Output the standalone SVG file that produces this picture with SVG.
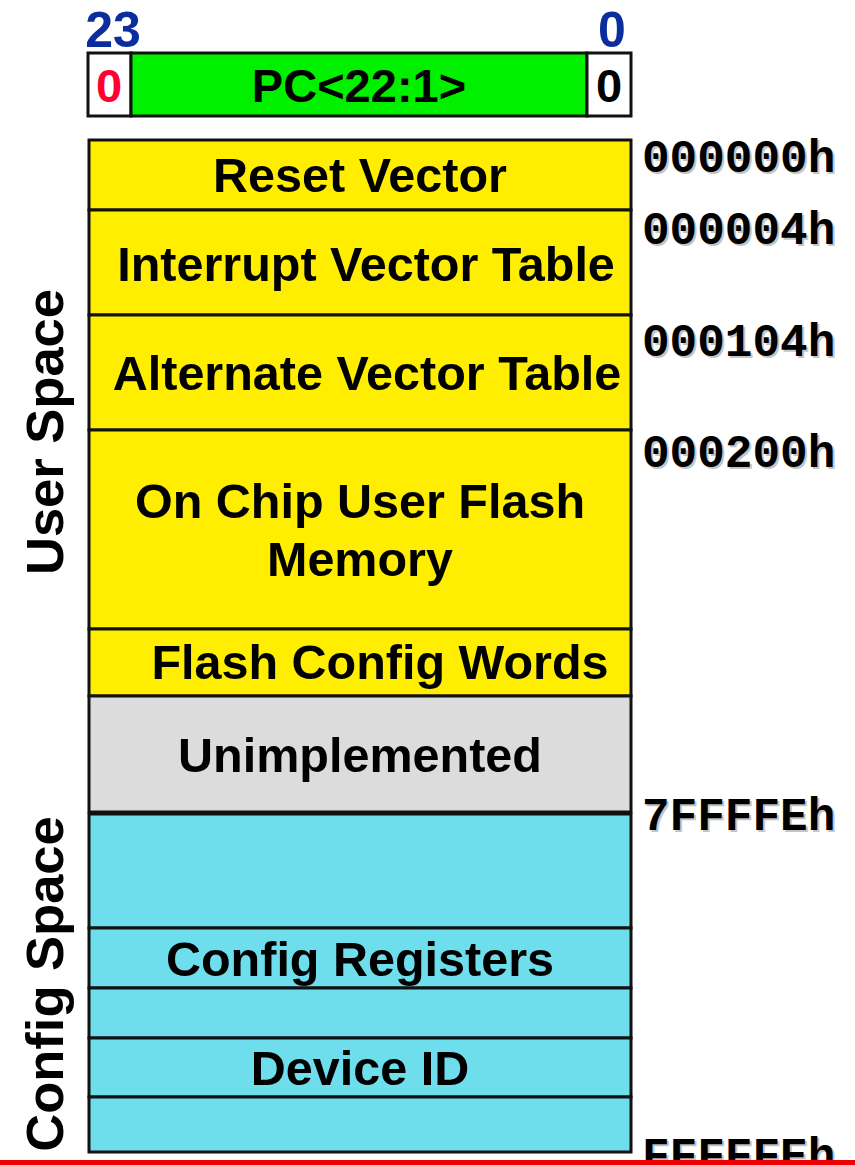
<svg xmlns="http://www.w3.org/2000/svg" width="855" height="1165" viewBox="0 0 855 1165">
  <defs>
    <style>
      .blk { stroke: #111; stroke-width: 3; }
      .yel { fill: #FFEE00; }
      .gry { fill: #DCDCDC; }
      .cyn { fill: #6EDEEC; }
      .lbl { font-family: "Liberation Sans", Arial, sans-serif; font-weight: bold; font-size: 48.5px; fill: #000; text-anchor: middle; }
      .pc { font-family: "Liberation Sans", Arial, sans-serif; font-weight: bold; font-size: 47px; fill: #000; text-anchor: middle; }
      .side { font-family: "Liberation Sans", Arial, sans-serif; font-weight: bold; font-size: 52.5px; fill: #000; text-anchor: middle; }
      .bit { font-family: "Liberation Sans", Arial, sans-serif; font-weight: bold; font-size: 50px; fill: #0B2E9C; text-anchor: middle; }
      .addr { font-family: "Liberation Mono", "Courier New", monospace; font-weight: bold; font-size: 46px; fill: #000; }
      .addr-sh { font-family: "Liberation Mono", "Courier New", monospace; font-weight: bold; font-size: 46px; fill: #C4C4C4; }
    </style>
  </defs>

  <rect width="855" height="1165" fill="#fff"/>

  <!-- program counter register -->
  <g id="pc-register">
    <text class="bit" x="113" y="47">23</text>
    <text class="bit" x="612" y="47">0</text>
    <rect class="blk" x="88" y="53" width="43" height="63" fill="#fff"/>
    <rect class="blk" x="131" y="53" width="456" height="63" fill="#00F000"/>
    <rect class="blk" x="587" y="53" width="44" height="63" fill="#fff"/>
    <text class="pc" x="109" y="102" style="fill:#FF0033">0</text>
    <text class="pc" x="359" y="102">PC&lt;22:1&gt;</text>
    <text class="pc" x="609" y="102">0</text>
  </g>

  <!-- user space -->
  <g id="reset-vector">
    <rect class="blk yel" x="89" y="140" width="542" height="70"/>
    <text class="lbl" x="360" y="192">Reset Vector</text>
  </g>
  <g id="interrupt-vector-table">
    <rect class="blk yel" x="89" y="210" width="542" height="105"/>
    <text class="lbl" x="366" y="281">Interrupt Vector Table</text>
  </g>
  <g id="alternate-vector-table">
    <rect class="blk yel" x="89" y="315" width="542" height="115"/>
    <text class="lbl" x="367" y="390">Alternate Vector Table</text>
  </g>
  <g id="user-flash">
    <rect class="blk yel" x="89" y="430" width="542" height="199"/>
    <text class="lbl" x="360" y="518">On Chip User Flash</text>
    <text class="lbl" x="360" y="576">Memory</text>
  </g>
  <g id="flash-config-words">
    <rect class="blk yel" x="89" y="629" width="542" height="67"/>
    <text class="lbl" x="380" y="679">Flash Config Words</text>
  </g>
  <g id="unimplemented">
    <rect class="blk gry" x="89" y="696" width="542" height="116"/>
    <text class="lbl" x="360" y="772">Unimplemented</text>
  </g>

  <!-- config space -->
  <g id="config-reserved-1">
    <rect class="blk cyn" x="89" y="814" width="542" height="114"/>
  </g>
  <g id="config-registers">
    <rect class="blk cyn" x="89" y="928" width="542" height="60"/>
    <text class="lbl" x="360" y="976">Config Registers</text>
  </g>
  <g id="config-reserved-2">
    <rect class="blk cyn" x="89" y="988" width="542" height="50"/>
  </g>
  <g id="device-id">
    <rect class="blk cyn" x="89" y="1038" width="542" height="59"/>
    <text class="lbl" x="360" y="1085">Device ID</text>
  </g>
  <g id="config-reserved-3">
    <rect class="blk cyn" x="89" y="1097" width="542" height="55"/>
  </g>

  <!-- region labels -->
  <g id="region-labels">
    <text class="side" transform="translate(63 432) rotate(-90)">User Space</text>
    <text class="side" transform="translate(63 984) rotate(-90)">Config Space</text>
  </g>

  <!-- address labels with drop shadow -->
  <g id="addresses">
    <text class="addr-sh" x="644" y="174">000000h</text>
    <text class="addr" x="642" y="172">000000h</text>
    <text class="addr-sh" x="644" y="246">000004h</text>
    <text class="addr" x="642" y="244">000004h</text>
    <text class="addr-sh" x="644" y="358">000104h</text>
    <text class="addr" x="642" y="356">000104h</text>
    <text class="addr-sh" x="644" y="469">000200h</text>
    <text class="addr" x="642" y="467">000200h</text>
    <text class="addr-sh" x="644" y="832">7FFFFEh</text>
    <text class="addr" x="642" y="830">7FFFFEh</text>
    <text class="addr-sh" x="644" y="1172">FFFFFEh</text>
    <text class="addr" x="642" y="1170">FFFFFEh</text>
  </g>

  <!-- bottom rule -->
  <rect x="0" y="1160" width="855" height="5" fill="#EE0000"/>
</svg>
